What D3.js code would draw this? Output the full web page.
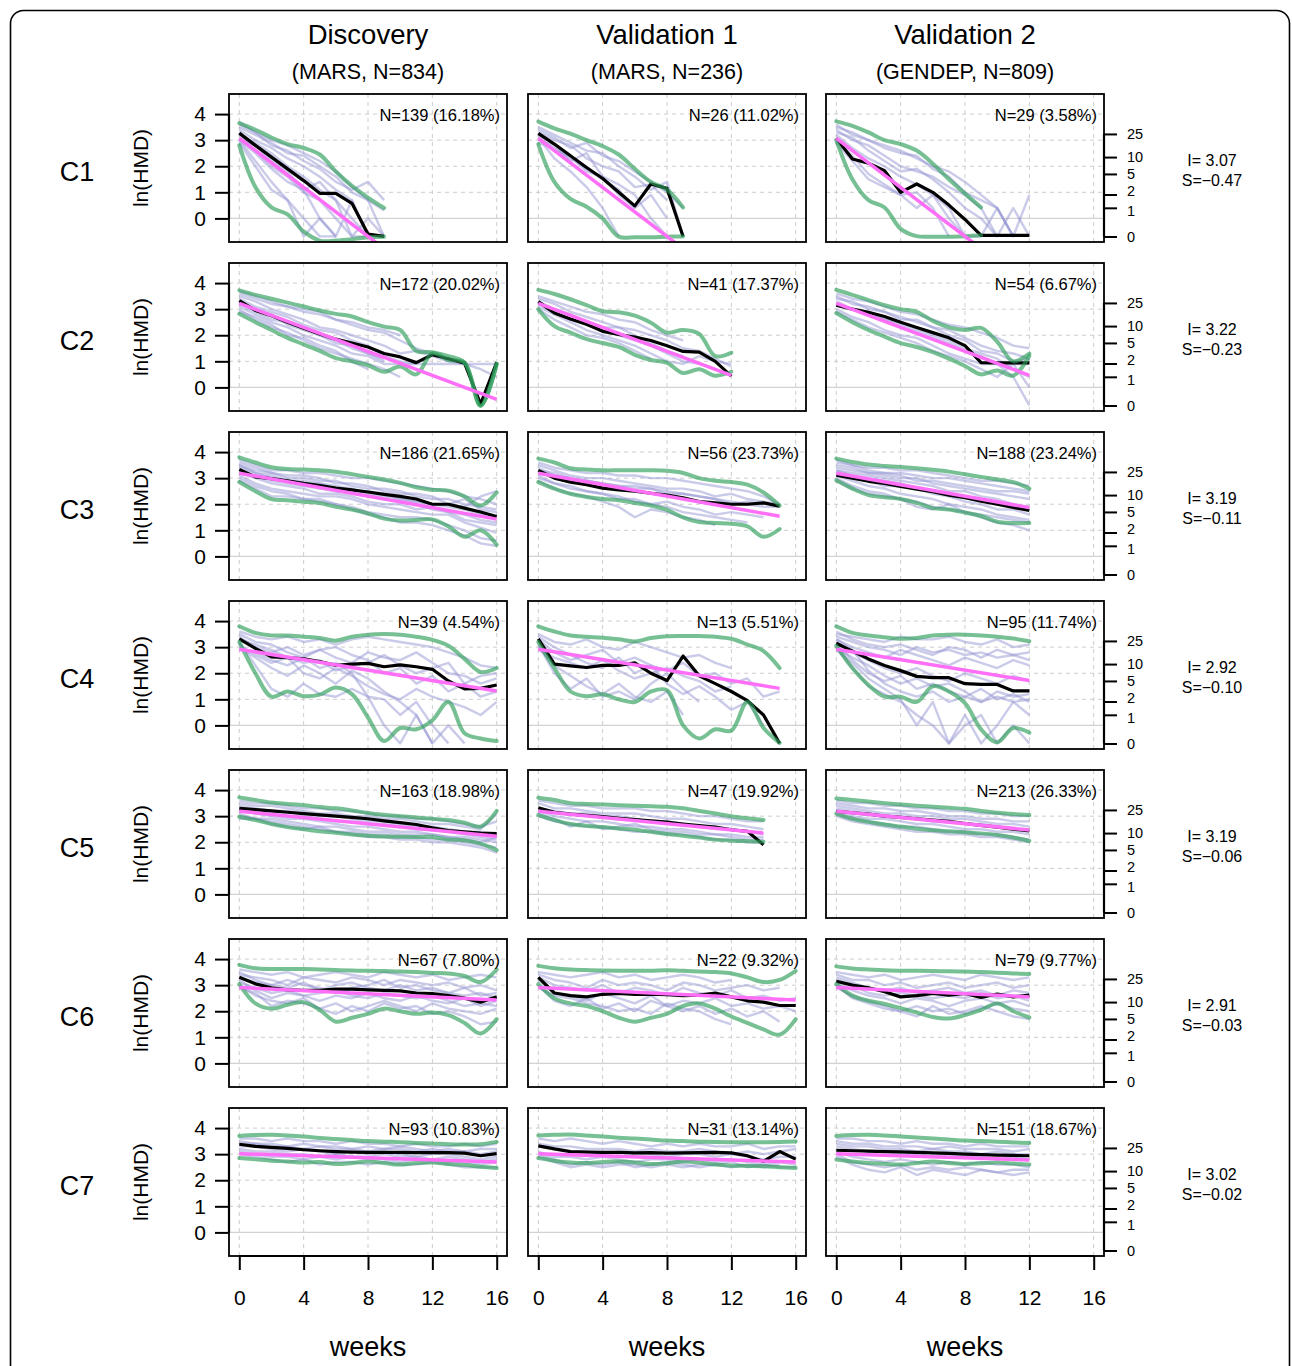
<!DOCTYPE html>
<html><head><meta charset="utf-8">
<script src="https://cdn.jsdelivr.net/npm/d3@7"></script>
<style>body{margin:0;background:#fff}svg{display:block}text{font-family:"Liberation Sans",Arial,Helvetica,sans-serif;fill:#000}</style>
</head><body><svg id="chart" width="1292" height="1366"></svg>
<script>
// ---------- labels ----------
const columnTitles = ["Discovery", "Validation 1", "Validation 2"];
const columnSubtitles = ["(MARS, N=834)", "(MARS, N=236)", "(GENDEP, N=809)"];
const clusters = ["C1", "C2", "C3", "C4", "C5", "C6", "C7"];
const intercepts = [3.07, 3.22, 3.19, 2.92, 3.19, 2.91, 3.02];
const slopes = [-0.47, -0.23, -0.11, -0.10, -0.06, -0.03, -0.02];
const panelCounts = [[139, 26, 29], [172, 41, 54], [186, 56, 188], [39, 13, 95], [163, 47, 213], [67, 22, 79], [93, 31, 151]];
const panelPercents = [[16.18, 11.02, 3.58], [20.02, 17.37, 6.67], [21.65, 23.73, 23.24], [4.54, 5.51, 11.74], [18.98, 19.92, 26.33], [7.80, 9.32, 9.77], [10.83, 13.14, 18.67]];
const yTicks = [0, 1, 2, 3, 4];
const xTicks = [0, 4, 8, 12, 16];
const hmdTicks = [0, 1, 2, 5, 10, 25];

// ---------- C1 ----------
const medC1 = [
  [3.27, 2.8, 2.35, 1.9, 1.45, 0.96, 0.96, 0.58, -0.6, -0.69],
  [3.26, 2.85, 2.4, 1.95, 1.53, 1.0, 0.48, 1.32, 1.15, -0.69],
  [3.07, 2.28, 2.12, 1.83, 1.0, 1.32, 1.0, 0.51, -0.04, -0.65, -0.65, -0.65, -0.65]];
const hiC1 = [
  [3.65, 3.4, 3.1, 2.85, 2.7, 2.45, 1.8, 1.25, 0.8, 0.4],
  [3.71, 3.45, 3.25, 3.0, 2.77, 2.45, 1.9, 1.4, 1.1, 0.42],
  [3.72, 3.55, 3.3, 3.0, 2.85, 2.6, 2.1, 1.5, 0.95, 0.42]];
const loC1 = [
  [2.8, 1.2, 0.42, 0.15, -0.5, -0.85, -0.85, -0.8, -0.72, -0.7],
  [2.85, 1.4, 0.75, 0.45, 0.0, -0.7, -0.72, -0.72, -0.7, -0.69],
  [3.0, 1.5, 0.7, 0.42, -0.4, -0.68, -0.7, -0.7, -0.68, -0.65]];
const indC1 = [
  [[3.6,3.3,3.0,2.8,2.5,2.2,1.8,1.2,0.7,0.3],[3.3,2.6,2.0,1.6,1.0,0.7,0.0,-0.69,-0.69],[3.0,2.2,1.4,0.7,0.0,-0.69,-0.69],
   [3.4,3.0,2.7,2.3,2.0,1.6,1.1,0.7,-0.69,-0.69],[3.1,2.8,2.2,1.8,1.1,1.4,0.7,0.0,-0.69],[3.5,3.2,2.9,2.5,2.4,2.0,1.6,1.0,0.7,-0.69],
   [2.9,2.0,1.1,0.7,-0.69,0.0,-0.69],[3.2,2.9,2.5,2.0,1.6,1.1,0.7,-0.69,0.0,-0.69],[3.7,3.3,2.8,2.6,2.2,1.9,1.4,1.1,1.4,0.7],
   [3.0,2.5,1.9,1.4,1.1,0.0,-0.69,0.7,-0.69]],
  [[3.4,3.1,2.7,2.9,2.4,2.2,1.8,1.4,1.0,0.4],[3.2,2.6,2.4,1.8,1.6,0.9,0.4],[3.0,2.8,2.2,2.5,1.6,1.3,0.9,0.0,-0.69],
   [3.3,3.0,2.8,2.3,2.0,1.8,1.2,1.3,0.7],[3.1,2.3,1.8,1.2,0.4,-0.69],[3.5,3.2,2.9,2.6,2.5,2.0,1.6,1.1,1.4,-0.69],
   [2.9,2.7,2.3,1.9,1.5,1.1,0.4,0.9,0.0]],
  [[3.5,3.3,3.0,2.8,2.6,2.3,2.0,1.8,1.4,0.9,0.4,-0.69],[3.2,2.7,2.3,2.0,1.6,1.3,0.9,0.4,-0.69,-0.69,0.4,-0.69,0.9],
   [3.3,3.1,2.6,2.2,1.8,1.9,1.5,1.0,0.4,0.0,-0.69],[3.0,2.4,1.7,1.3,0.9,1.0,0.4,-0.69],[3.6,3.2,3.0,2.7,2.5,2.4,1.9,1.6,1.0,0.7,0.4,-0.69],
   [2.9,2.2,1.5,1.2,0.9,0.4,0.9,0.0,-0.69],[3.4,3.0,2.8,2.4,2.0,1.8,1.6,1.2,0.9,0.4,-0.69,0.4,-0.69]]];

// ---------- C2 ----------
const medC2 = [
  [3.33, 2.95, 2.75, 2.5, 2.27, 2.05, 1.85, 1.7, 1.55, 1.3, 1.17, 0.95, 1.25, 1.1, 0.93, -0.64, 0.96],
  [3.29, 2.85, 2.62, 2.42, 2.15, 2.03, 1.93, 1.8, 1.6, 1.38, 1.35, 1.0, 0.43],
  [3.15, 3.0, 2.88, 2.72, 2.5, 2.3, 2.1, 1.9, 1.6, 0.95, 0.94, 0.94, 0.94]];
const hiC2 = [
  [3.72, 3.55, 3.4, 3.25, 3.1, 2.95, 2.82, 2.72, 2.5, 2.33, 2.2, 1.4, 1.35, 1.2, 0.95, -0.7, 0.9],
  [3.74, 3.58, 3.38, 3.15, 2.92, 2.88, 2.75, 2.48, 2.1, 2.2, 2.05, 1.2, 1.33],
  [3.74, 3.55, 3.35, 3.15, 3.0, 2.9, 2.55, 2.3, 2.2, 2.28, 1.75, 1.0, 1.3]];
const loC2 = [
  [2.82, 2.5, 2.2, 1.9, 1.65, 1.4, 1.12, 1.0, 0.85, 0.6, 0.8, 0.5, 1.3, 1.05, 0.95, -0.7, 0.9],
  [3.0, 2.35, 2.1, 1.85, 1.7, 1.55, 1.25, 1.05, 0.94, 0.55, 0.7, 0.45, 0.6],
  [2.85, 2.5, 2.2, 1.95, 1.7, 1.55, 1.35, 1.1, 0.82, 0.5, 0.65, 0.45, 1.2]];
const indC2 = [
  [[3.6,3.4,3.2,3.1,2.9,2.8,2.6,2.5,2.3,2.2,2.0],[3.3,3.0,2.8,2.4,2.2,2.0,1.8,1.5,1.3,1.0],[3.0,2.6,2.3,2.1,1.8,1.5,1.3,1.1,0.9,0.7,0.4],
   [3.5,3.3,3.0,2.8,2.6,2.3,2.2,2.0,1.8,1.6,1.3,1.4,1.2,1.0,0.9,0.7,0.4],[3.2,2.9,2.6,2.5,2.3,2.0,1.7,1.6,1.3,1.1],
   [3.4,3.1,2.9,2.7,2.4,2.2,2.1,1.8,1.6,1.2,1.0,0.9],[2.9,2.7,2.4,2.0,1.9,1.6,1.4,1.0,0.7],
   [3.7,3.5,3.3,3.1,3.0,2.9,2.6,2.4,2.2,2.1,1.8,1.5,1.3],[3.1,2.8,2.5,2.3,2.0,1.8,1.6,1.3,1.2,0.9,0.9,0.9,0.9,0.9,0.9,0.9,0.9]],
  [[3.5,3.3,3.1,2.9,2.8,2.6,2.5,2.2,2.0,1.8],[3.2,2.9,2.6,2.4,2.2,2.0,1.8,1.6,1.3,1.0,0.9],[3.0,2.6,2.3,2.0,1.9,1.7,1.4,1.1],
   [3.4,3.2,2.9,2.7,2.5,2.3,2.2,2.0,1.8,1.5,1.4,1.1,0.8],[3.3,3.0,2.8,2.5,2.3,2.3,2.0,1.7,1.4,1.2],[3.1,2.8,2.5,2.2,2.0,1.8,1.6,1.3,1.0,0.9,1.2,1.0,0.9]],
  [[3.6,3.4,3.3,3.1,2.9,2.8,2.6,2.4,2.3,2.1,1.9,1.6,1.5],[3.2,3.0,2.8,2.6,2.4,2.1,1.9,1.7,1.4,1.2,0.9,0.4,-0.69],
   [3.0,2.7,2.5,2.2,2.0,1.9,1.6,1.3,1.1,0.9,0.9,0.9,0.9],[3.4,3.3,3.0,2.9,2.7,2.5,2.3,2.2,1.9,1.6,1.4,1.3,1.1],
   [3.3,3.0,2.9,2.6,2.5,2.2,2.0,1.8,1.5,1.3,1.1,0.7,0.4],[2.9,2.6,2.3,2.1,1.9,1.7,1.4,1.2,1.0,0.7,0.4,0.9,0.0],
   [3.5,3.2,3.1,2.9,2.6,2.6,2.3,2.0,1.8,1.4,1.3,1.0,1.1]]];

// ---------- C3 ----------
const medC3 = [
  [3.33, 3.05, 2.98, 2.9, 2.8, 2.72, 2.62, 2.55, 2.47, 2.38, 2.3, 2.2, 2.0, 2.0, 1.85, 1.7, 1.53],
  [3.3, 3.0, 2.85, 2.75, 2.62, 2.55, 2.5, 2.42, 2.35, 2.25, 2.1, 2.05, 2.0, 2.0, 2.05, 1.93],
  [3.11, 3.0, 2.88, 2.8, 2.68, 2.58, 2.48, 2.35, 2.25, 2.12, 2.0, 1.88, 1.76]];
const hiC3 = [
  [3.8, 3.6, 3.42, 3.35, 3.33, 3.3, 3.25, 3.15, 3.05, 2.95, 2.82, 2.65, 2.55, 2.52, 2.3, 1.95, 2.45],
  [3.75, 3.6, 3.38, 3.33, 3.3, 3.3, 3.3, 3.3, 3.28, 3.2, 3.0, 2.9, 2.85, 2.75, 2.45, 1.95],
  [3.75, 3.62, 3.52, 3.47, 3.43, 3.38, 3.32, 3.25, 3.15, 3.05, 2.95, 2.85, 2.6]];
const loC3 = [
  [2.85, 2.5, 2.2, 2.15, 2.1, 2.05, 1.9, 1.8, 1.65, 1.45, 1.38, 1.4, 1.42, 1.15, 0.75, 1.0, 0.45],
  [2.85, 2.6, 2.4, 2.28, 2.2, 2.15, 2.05, 1.95, 1.78, 1.5, 1.32, 1.28, 1.25, 1.15, 0.75, 1.05],
  [2.92, 2.6, 2.35, 2.27, 2.2, 2.05, 1.85, 1.8, 1.68, 1.55, 1.33, 1.28, 1.28]];
const indC3 = [
  [[3.7,3.5,3.3,3.3,3.2,3.2,3.1,3.0,3.0,2.9,2.8,2.7,2.6,2.5,2.3,2.2,2.0],[3.1,2.8,2.6,2.5,2.4,2.3,2.3,2.2,2.0,1.9,1.8,1.7,1.6,1.6,1.3,1.1,0.9],
   [3.4,3.2,3.1,2.9,2.9,2.8,2.6,2.5,2.5,2.4,2.2,2.1,2.0,1.9,1.8,1.6,1.5],[2.9,2.6,2.3,2.3,2.2,2.1,2.0,1.9,1.7,1.6,1.5,1.5,1.4,1.2,1.0,0.7,0.6],
   [3.5,3.3,3.2,3.0,3.0,2.9,2.9,2.7,2.6,2.6,2.5,2.3,2.2,2.2,2.0,1.9,1.8],[3.2,3.0,2.8,2.7,2.6,2.4,2.4,2.3,2.1,2.0,2.0,1.8,1.9,1.7,1.4,1.3,1.2],
   [3.6,3.4,3.2,3.1,3.1,3.0,2.8,2.8,2.7,2.5,2.4,2.4,2.3,2.0,1.9,2.3,2.5],[3.0,2.7,2.5,2.4,2.2,2.2,2.0,1.8,1.6,1.5,1.3,1.3,1.2,1.0,0.8,0.5,0.4],
   [3.3,3.1,2.9,2.8,2.7,2.6,2.5,2.4,2.3,2.2,2.1,2.0,1.8,1.7,1.6,1.4,1.3],[3.5,3.2,3.0,2.9,2.8,2.8,2.7,2.6,2.4,2.3,2.2,2.1,2.0,2.0,2.2,1.8,1.7]],
  [[3.6,3.4,3.3,3.2,3.2,3.1,3.1,3.0,3.0,2.9,2.8,2.7,2.6,2.5,2.3,2.0],[3.1,2.8,2.6,2.5,2.4,2.3,2.1,2.0,1.9,1.7,1.6,1.5,1.4,1.3],
   [3.4,3.1,3.0,2.9,2.8,2.7,2.6,2.6,2.5,2.4,2.3,2.2,2.1,2.0,1.9,1.9],[2.9,2.6,2.4,2.3,2.1,1.9,1.5,1.8,1.7,1.5,1.4,1.2],
   [3.3,3.2,3.0,2.9,2.8,2.7,2.7,2.6,2.4,2.4,2.3,2.2,2.0,2.1,2.0],[3.0,2.8,2.7,2.5,2.4,2.2,2.2,2.0,2.1,1.9,1.8,1.6,1.7,1.6,1.5],
   [3.5,3.3,3.1,3.0,3.0,2.9,2.8,2.7,2.6,2.6,2.5,2.3,2.4,2.2,2.1,2.0]],
  [[3.6,3.5,3.4,3.4,3.3,3.3,3.2,3.1,3.0,2.9,2.9,2.8,2.7],[3.0,2.7,2.5,2.4,2.2,2.1,1.9,1.8,1.7,1.5,1.3,1.2,1.0],
   [3.3,3.1,3.0,2.9,2.8,2.6,2.5,2.4,2.3,2.2,2.1,1.9,1.8],[3.4,3.3,3.2,3.1,3.0,3.0,2.8,2.7,2.6,2.5,2.4,2.3,2.2],
   [2.9,2.6,2.4,2.3,2.2,1.9,1.8,2.0,1.7,1.6,1.5,1.4,1.3],[3.2,3.0,2.9,2.7,2.7,2.6,2.4,2.3,2.1,2.0,1.8,1.8,1.6],
   [3.5,3.4,3.2,3.2,3.1,2.9,2.9,2.8,2.7,2.6,2.5,2.5,2.4],[3.1,2.9,2.7,2.6,2.4,2.3,2.2,2.0,1.9,1.8,1.6,1.5,1.4],
   [3.3,3.2,3.1,3.0,2.9,2.8,2.7,2.5,2.5,2.3,2.2,2.0,1.9],[3.7,3.5,3.3,3.2,3.2,3.1,3.0,3.0,2.9,2.8,2.7,2.6,2.5]]];

// ---------- C4 ----------
const medC4 = [
  [3.32, 2.95, 2.63, 2.6, 2.55, 2.45, 2.3, 2.35, 2.38, 2.25, 2.32, 2.25, 2.15, 1.7, 1.4, 1.42, 1.55],
  [3.32, 2.35, 2.28, 2.22, 2.3, 2.3, 2.4, 2.0, 1.72, 2.66, 1.9, 1.6, 1.3, 0.95, 0.4, -0.69],
  [3.15, 2.85, 2.55, 2.3, 2.1, 1.88, 1.83, 1.83, 1.6, 1.57, 1.57, 1.32, 1.32]];
const hiC4 = [
  [3.8, 3.55, 3.45, 3.45, 3.4, 3.35, 3.25, 3.4, 3.48, 3.5, 3.48, 3.4, 3.28, 3.05, 2.55, 2.05, 2.2],
  [3.8, 3.6, 3.45, 3.4, 3.36, 3.3, 3.22, 3.35, 3.42, 3.43, 3.43, 3.4, 3.32, 3.1, 2.85, 2.2],
  [3.8, 3.55, 3.45, 3.38, 3.32, 3.35, 3.45, 3.48, 3.48, 3.45, 3.4, 3.33, 3.23]];
const loC4 = [
  [3.2, 2.0, 1.1, 1.3, 1.12, 1.18, 1.45, 1.2, 0.3, -0.6, -0.1, -0.15, 0.2, 0.9, -0.3, -0.5, -0.6],
  [3.2, 2.2, 1.3, 1.12, 1.19, 1.0, 0.9, 1.3, 1.35, 0.0, -0.5, -0.15, -0.2, 0.9, -0.1, -0.67],
  [3.05, 2.2, 1.55, 1.1, 1.1, 0.9, 1.5, 1.3, 0.85, -0.15, -0.65, -0.1, -0.28]];
const indC4 = [
  [[3.6,3.4,3.3,3.4,3.2,3.3,3.1,3.3,3.4,3.3,3.2,3.1,3.0,2.8,2.6,2.3,2.2],[3.0,2.6,2.2,1.9,2.3,2.0,1.6,2.1,1.8,1.3,0.9,0.4,-0.69,0.0,-0.69],
   [3.4,3.0,2.8,3.0,2.7,2.9,2.6,2.4,2.8,2.6,2.5,2.8,2.4,2.0,1.9,1.6,1.8],[3.2,2.3,1.4,1.1,1.6,1.2,1.1,1.4,1.1,1.0,0.4,0.9,0.0,-0.69],
   [3.5,3.2,3.1,2.8,2.6,2.9,3.0,2.7,2.5,2.0,2.2,1.6,1.9,1.3,1.6,1.1,1.3],[2.9,2.8,2.5,2.3,2.6,2.2,2.4,2.0,1.1,0.0,-0.69,0.4,-0.69],
   [3.3,3.1,2.9,2.6,2.4,2.5,2.1,2.3,2.4,2.7,2.3,2.0,2.2,2.4,1.6,1.9,2.0],[3.1,2.7,2.4,2.6,2.0,1.8,2.2,1.9,1.5,1.2,1.0,1.4,1.1,0.9,0.7,0.4,0.9]],
  [[3.5,3.2,3.1,3.3,3.0,2.9,3.2,3.0,2.8,2.6,2.7,2.4,2.2],[3.0,2.3,1.9,1.5,1.2,1.6,1.1,0.9,1.3,0.4],
   [3.3,2.8,2.5,2.7,2.9,2.4,2.6,2.3,2.1,2.4,1.9,2.0,1.6,1.8,1.1,1.3],[3.1,2.0,1.4,1.8,1.1,1.3,1.0,1.6,2.0,1.4,0.9],
   [3.4,3.0,2.7,2.4,2.2,2.6,2.0,2.3,1.6,1.2,1.5,1.1,0.6,0.9,0.0],[2.9,2.6,2.4,2.2,2.5,2.1,1.8,2.0,2.2,1.9,1.7,1.3,1.5]],
  [[3.5,3.4,3.3,3.2,3.4,3.3,3.3,3.4,3.2,3.1,3.3,3.0,3.1],[3.0,2.2,1.5,1.2,0.9,0.4,0.0,-0.69,0.4,-0.69,0.0,0.9,0.4],
   [3.3,3.0,2.8,2.6,2.9,2.7,2.5,2.3,2.6,2.4,2.2,2.5,2.3],[3.1,2.5,2.0,1.7,1.9,1.4,1.6,1.3,1.1,1.4,1.0,1.2,0.9],
   [3.4,3.2,3.0,2.9,2.7,3.0,2.8,2.9,2.7,2.8,2.6,2.7,2.5],[2.9,2.4,1.8,1.4,1.0,0.0,0.9,-0.69,0.0,0.4,-0.69,0.0,-0.69],
   [3.2,2.8,2.5,2.2,2.0,2.2,1.9,1.7,2.0,1.8,1.6,1.9,1.7],[3.6,3.3,3.1,3.0,3.1,2.9,2.7,3.0,2.9,2.6,2.9,2.7,2.8],
   [3.0,2.6,2.3,1.9,1.6,1.8,1.5,1.6,1.3,0.9,1.3,1.1,1.2],[3.3,2.9,2.1,1.6,1.3,1.1,1.3,0.9,1.1,0.9,1.1,0.9,1.0]]];

// ---------- C5 ----------
const medC5 = [
  [3.3, 3.25, 3.2, 3.15, 3.1, 3.05, 3.0, 2.95, 2.9, 2.82, 2.75, 2.68, 2.55, 2.45, 2.4, 2.35, 2.33],
  [3.32, 3.15, 3.08, 3.03, 2.98, 2.92, 2.87, 2.82, 2.77, 2.7, 2.64, 2.58, 2.48, 2.42, 1.9],
  [3.18, 3.13, 3.08, 3.0, 2.95, 2.9, 2.85, 2.8, 2.72, 2.65, 2.58, 2.5, 2.43]];
const hiC5 = [
  [3.72, 3.62, 3.52, 3.47, 3.42, 3.35, 3.3, 3.22, 3.12, 3.05, 3.0, 2.95, 2.9, 2.85, 2.75, 2.6, 3.2],
  [3.71, 3.62, 3.5, 3.47, 3.45, 3.42, 3.4, 3.38, 3.36, 3.3, 3.2, 3.1, 3.0, 2.92, 2.85],
  [3.68, 3.62, 3.56, 3.5, 3.45, 3.4, 3.36, 3.32, 3.28, 3.2, 3.13, 3.08, 3.04]];
const loC5 = [
  [2.98, 2.85, 2.7, 2.58, 2.5, 2.42, 2.36, 2.3, 2.25, 2.22, 2.21, 2.2, 2.2, 2.1, 2.08, 1.95, 1.7],
  [3.04, 2.85, 2.7, 2.63, 2.58, 2.53, 2.48, 2.4, 2.32, 2.25, 2.18, 2.1, 2.06, 2.04, 2.02],
  [3.1, 2.9, 2.78, 2.68, 2.6, 2.52, 2.46, 2.42, 2.38, 2.34, 2.28, 2.18, 2.05]];
const indC5 = [
  [[3.6,3.5,3.5,3.4,3.3,3.3,3.2,3.2,3.1,3.0,3.0,2.9,2.9,2.8,2.7,2.6,2.8],[3.0,2.9,2.8,2.7,2.6,2.5,2.4,2.4,2.3,2.3,2.2,2.2,2.1,2.1,2.0,1.9,1.8],
   [3.4,3.3,3.2,3.2,3.1,3.0,3.0,2.9,2.8,2.8,2.7,2.6,2.6,2.5,2.4,2.4,2.3],[3.2,3.1,3.0,2.9,2.9,2.8,2.7,2.6,2.6,2.5,2.4,2.4,2.3,2.2,2.2,2.1,2.0],
   [3.5,3.4,3.4,3.3,3.2,3.1,3.1,3.0,3.0,2.9,2.9,2.8,2.7,2.7,2.6,2.5,3.1],[3.1,2.9,2.9,2.8,2.7,2.6,2.6,2.5,2.4,2.4,2.3,2.3,2.3,2.2,2.1,2.0,2.2],
   [3.3,3.2,3.1,3.0,3.0,2.9,2.8,2.8,2.7,2.7,2.6,2.5,2.5,2.4,2.3,2.2,2.1],[2.9,2.9,2.7,2.6,2.5,2.6,2.4,2.3,2.2,2.2,2.1,2.1,2.0,2.0,1.9,1.8,1.6]],
  [[3.6,3.5,3.4,3.4,3.3,3.3,3.3,3.2,3.2,3.1,3.0,3.0,2.9,2.8,2.8],[3.0,2.8,2.7,2.6,2.6,2.5,2.4,2.4,2.3,2.3,2.2,2.1,2.1,2.0,2.0],
   [3.3,3.2,3.1,3.1,3.0,3.0,2.9,2.8,2.8,2.7,2.6,2.6,2.5,2.4,2.3],[3.2,3.0,2.9,2.8,2.8,2.7,2.6,2.6,2.5,2.5,2.4,2.3,2.3,2.2,2.2],
   [3.5,3.3,3.3,3.2,3.1,3.1,3.1,3.0,2.9,2.9,2.8,2.7,2.7,2.6,2.5],[3.1,2.9,2.6,2.8,2.5,2.6,2.7,2.5,2.4,2.4,2.3,2.3,2.2,2.1,2.1]],
  [[3.6,3.5,3.5,3.4,3.4,3.3,3.3,3.2,3.2,3.1,3.1,3.0,3.0],[3.0,2.8,2.7,2.6,2.5,2.4,2.4,2.3,2.3,2.2,2.2,2.1,2.0],
   [3.3,3.2,3.1,3.0,3.0,2.9,2.8,2.8,2.7,2.7,2.6,2.5,2.5],[3.2,3.0,2.9,2.9,2.8,2.7,2.7,2.6,2.5,2.5,2.4,2.4,2.3],
   [3.5,3.4,3.3,3.3,3.2,3.2,3.1,3.0,3.0,2.9,2.9,2.8,2.8],[3.1,2.9,2.8,2.7,2.6,2.6,2.5,2.4,2.4,2.3,2.3,2.2,2.1],
   [3.4,3.3,3.2,3.1,3.1,3.0,3.0,2.9,2.9,2.8,2.7,2.7,2.6]]];

// ---------- C6 ----------
const medC6 = [
  [3.3, 3.05, 2.9, 2.82, 2.8, 2.8, 2.85, 2.85, 2.82, 2.8, 2.78, 2.7, 2.68, 2.6, 2.5, 2.35, 2.55],
  [3.3, 2.7, 2.6, 2.55, 2.65, 2.68, 2.65, 2.66, 2.64, 2.6, 2.62, 2.7, 2.55, 2.4, 2.35, 2.22, 2.22],
  [3.15, 3.0, 2.9, 2.75, 2.55, 2.6, 2.68, 2.62, 2.68, 2.53, 2.66, 2.55, 2.62]];
const hiC6 = [
  [3.78, 3.65, 3.62, 3.62, 3.62, 3.6, 3.58, 3.56, 3.55, 3.54, 3.52, 3.5, 3.47, 3.45, 3.35, 3.12, 3.6],
  [3.74, 3.65, 3.6, 3.58, 3.56, 3.55, 3.55, 3.55, 3.57, 3.55, 3.52, 3.5, 3.45, 3.3, 3.12, 3.2, 3.55],
  [3.72, 3.64, 3.6, 3.57, 3.55, 3.55, 3.54, 3.53, 3.52, 3.5, 3.48, 3.45, 3.43]];
const loC6 = [
  [3.04, 2.3, 2.1, 2.25, 2.35, 2.05, 1.6, 1.75, 1.9, 2.1, 2.0, 1.9, 1.95, 1.85, 1.55, 1.15, 1.7],
  [3.04, 2.5, 2.3, 2.2, 2.0, 1.75, 1.6, 1.75, 1.9, 2.2, 2.3, 2.1, 1.8, 1.55, 1.3, 1.1, 1.7],
  [3.04, 2.6, 2.4, 2.28, 2.12, 1.95, 1.78, 1.72, 1.85, 2.05, 2.3, 2.0, 1.76]];
const indC6 = [
  [[3.6,3.5,3.4,3.5,3.3,3.4,3.5,3.4,3.3,3.5,3.4,3.3,3.4,3.2,3.3,3.4,3.3],[3.0,2.6,2.4,2.3,2.5,2.1,1.9,2.2,2.0,2.3,2.1,2.2,1.9,2.0,1.8,1.5,1.6],
   [3.3,3.1,3.0,2.9,3.1,2.8,3.0,3.1,2.9,2.8,3.0,2.8,2.9,2.7,2.6,2.7,2.5],[3.2,2.8,2.5,2.7,2.6,2.4,2.6,2.5,2.7,2.5,2.4,2.6,2.4,2.3,2.5,2.2,2.4],
   [3.4,3.3,3.2,3.0,3.3,3.2,3.1,3.3,3.2,3.0,3.2,3.1,3.0,3.1,2.9,3.0,2.8],[2.9,2.7,2.2,2.4,2.3,2.1,2.3,2.0,2.2,2.4,2.2,2.0,2.3,2.1,2.0,1.9,2.1],
   [3.5,3.2,3.0,3.2,3.0,2.9,2.7,2.9,3.0,3.2,2.9,3.0,2.8,2.7,2.9,2.6,2.7],[3.1,2.9,2.7,2.8,2.6,2.7,2.8,2.6,2.5,2.7,2.6,2.5,2.6,2.4,2.2,2.3,2.2]],
  [[3.5,3.4,3.3,3.4,3.5,3.3,3.4,3.2,3.3,3.4,3.3,3.1,3.2],[3.0,2.4,2.2,2.5,2.1,2.3,2.0,2.4,2.2,2.0,2.2,1.9,2.1,1.8,2.0,1.6],
   [3.3,3.0,2.9,2.8,3.0,2.7,2.9,2.8,2.6,2.9,2.7,2.6,2.8,2.5,2.6,2.4,2.5],[3.2,2.7,2.6,2.4,2.7,2.5,2.3,2.6,2.2,2.4,2.3,2.5,2.2,2.3,2.1,2.2,2.0],
   [3.4,3.2,3.1,2.9,3.2,3.0,3.1,3.0,2.8,3.1,3.0,2.8,2.9,3.0,2.8,2.9],[2.9,2.6,2.5,2.3,2.2,2.0,2.1,1.9,2.3,2.1,2.0,1.7,1.5]],
  [[3.5,3.4,3.3,3.4,3.2,3.3,3.4,3.3,3.2,3.4,3.3,3.2,3.3],[3.0,2.5,2.3,2.1,2.0,1.8,2.2,1.9,2.0,2.2,2.0,1.8,1.7],
   [3.3,3.1,2.9,2.8,2.9,2.7,2.8,2.9,2.7,2.8,2.6,2.8,2.7],[3.1,2.8,2.6,2.5,2.3,2.5,2.4,2.2,2.4,2.5,2.3,2.4,2.2],
   [3.4,3.2,3.2,3.0,3.1,2.9,3.0,3.1,2.9,3.0,3.1,2.9,3.0],[2.9,2.6,2.4,2.2,2.0,2.2,2.0,2.1,1.9,2.1,2.3,2.1,2.0],
   [3.2,3.0,2.7,2.6,2.7,2.6,2.5,2.6,2.5,2.7,2.5,2.6,2.4]]];

// ---------- C7 ----------
const medC7 = [
  [3.38, 3.3, 3.26, 3.22, 3.17, 3.13, 3.1, 3.08, 3.07, 3.07, 3.07, 3.06, 3.06, 3.06, 3.04, 2.94, 3.02],
  [3.32, 3.2, 3.1, 3.08, 3.07, 3.07, 3.05, 3.06, 3.04, 3.05, 3.06, 3.07, 3.05, 2.94, 2.72, 3.1, 2.81],
  [3.15, 3.13, 3.12, 3.1, 3.09, 3.07, 3.05, 3.03, 3.0, 2.98, 2.96, 2.95, 2.94]];
const hiC7 = [
  [3.7, 3.73, 3.74, 3.72, 3.68, 3.62, 3.58, 3.54, 3.5, 3.48, 3.46, 3.43, 3.41, 3.38, 3.37, 3.38, 3.47],
  [3.72, 3.74, 3.75, 3.72, 3.68, 3.63, 3.6, 3.56, 3.52, 3.5, 3.48, 3.47, 3.46, 3.46, 3.46, 3.47, 3.49],
  [3.7, 3.73, 3.74, 3.72, 3.68, 3.64, 3.6, 3.56, 3.52, 3.5, 3.48, 3.45, 3.43]];
const loC7 = [
  [2.85, 2.8, 2.75, 2.72, 2.68, 2.7, 2.62, 2.66, 2.72, 2.66, 2.6, 2.66, 2.68, 2.62, 2.58, 2.52, 2.47],
  [2.85, 2.75, 2.68, 2.66, 2.7, 2.72, 2.68, 2.62, 2.65, 2.72, 2.68, 2.6, 2.56, 2.55, 2.54, 2.5, 2.47],
  [2.79, 2.72, 2.66, 2.63, 2.6, 2.66, 2.72, 2.66, 2.62, 2.65, 2.68, 2.64, 2.6]];
const indC7 = [
  [[3.6,3.6,3.5,3.6,3.5,3.5,3.4,3.5,3.4,3.4,3.3,3.4,3.3,3.3,3.4,3.3,3.4],[3.0,2.9,2.8,2.7,2.8,2.6,2.7,2.7,2.6,2.7,2.6,2.6,2.7,2.6,2.5,2.5,2.5],
   [3.3,3.3,3.2,3.1,3.2,3.1,3.0,3.1,3.0,3.1,3.0,2.9,3.0,3.0,2.9,2.8,2.9],[3.4,3.4,3.3,3.3,3.2,3.3,3.2,3.2,3.1,3.2,3.2,3.1,3.2,3.1,3.1,3.0,3.1],
   [3.1,3.0,2.9,2.9,2.8,2.9,2.8,2.9,2.8,2.8,2.7,2.8,2.8,2.7,2.7,2.6,2.7],[3.5,3.4,3.4,3.3,3.4,3.3,3.3,3.2,3.3,3.2,3.3,3.2,3.1,3.2,3.1,3.2,3.2],
   [3.2,3.1,3.1,3.0,3.0,2.9,3.0,2.9,2.9,3.0,2.9,2.9,2.8,2.9,2.8,2.7,2.8]],
  [[3.6,3.5,3.6,3.5,3.4,3.5,3.4,3.3,3.4,3.3,3.4,3.3,3.3,3.4,3.2,3.3,3.3],[3.0,2.8,2.6,2.7,2.6,2.7,2.5,2.6,2.7,2.6,2.5,2.6,2.7,2.5,2.6,2.5,2.5],
   [3.3,3.2,3.1,3.1,3.0,3.1,3.0,3.0,2.9,3.0,3.0,2.9,3.0,2.9,2.8,2.9,2.9],[3.4,3.3,3.3,3.2,3.2,3.2,3.1,3.2,3.1,3.1,3.2,3.1,3.0,3.1,3.0,3.1,3.2],
   [3.1,2.9,2.9,2.8,2.9,2.8,2.7,2.8,2.8,2.7,2.8,2.7,2.8,2.7,2.6,2.7,2.6],[2.9,2.7,2.5,2.6,2.5,2.6,2.6,2.5,2.6,2.5,2.6,2.6,2.5,2.6,2.5,2.6]],
  [[3.6,3.6,3.5,3.5,3.4,3.5,3.4,3.4,3.3,3.4,3.3,3.3,3.3],[2.9,2.6,2.4,2.3,2.5,2.2,2.4,2.3,2.2,2.4,2.3,2.2,2.3],
   [3.3,3.2,3.1,3.1,3.0,3.0,2.9,3.0,2.9,2.9,2.8,2.9,2.8],[3.4,3.3,3.3,3.2,3.2,3.1,3.2,3.1,3.1,3.0,3.1,3.0,3.0],
   [3.1,2.9,2.8,2.7,2.8,2.7,2.6,2.7,2.6,2.7,2.6,2.6,2.5],[3.5,3.4,3.4,3.3,3.3,3.3,3.2,3.3,3.2,3.2,3.2,3.1,3.2],
   [3.0,2.7,2.6,2.5,2.6,2.4,2.5,2.4,2.5,2.4,2.3,2.4,2.4]]];

const medians = [medC1, medC2, medC3, medC4, medC5, medC6, medC7];
const uppers = [hiC1, hiC2, hiC3, hiC4, hiC5, hiC6, hiC7];
const lowers = [loC1, loC2, loC3, loC4, loC5, loC6, loC7];
const individuals = [indC1, indC2, indC3, indC4, indC5, indC6, indC7];

// ---------- layout ----------
const FONT = '"Liberation Sans", Arial, Helvetica, sans-serif';
const panelW = 278, panelH = 148;
const colX = [229, 528, 826];
const rowY = d3.range(7).map(i => 94 + 169 * i);

const x = d3.scaleLinear().domain([-0.64, 16.64]).range([0, panelW]);
const y = d3.scaleLinear().domain([-0.905, 4.77]).range([panelH, 0]);

const svg = d3.select("#chart");
svg.append("rect").attr("x", 10.5).attr("y", 10.5).attr("width", 1279).attr("height", 1400)
  .attr("rx", 13).attr("fill", "none").attr("stroke", "#000").attr("stroke-width", 1.6);

const defs = svg.append("defs");
defs.append("clipPath").attr("id", "pclip").append("rect").attr("x", 0).attr("y", 0).attr("width", panelW).attr("height", panelH);

const lineRaw = d3.line().x((d, i) => x(i)).y(d => y(d));
const lineSmooth = d3.line().x((d, i) => x(i)).y(d => y(d)).curve(d3.curveCatmullRom.alpha(0.5));
const f2 = d3.format(".2f");

// column titles
columnTitles.forEach((t, c) => {
  const cx = colX[c] + panelW / 2;
  svg.append("text").attr("x", cx).attr("y", 34).attr("text-anchor", "middle").attr("dominant-baseline", "central")
    .attr("font-size", 27.5).text(t);
  svg.append("text").attr("x", cx).attr("y", 72).attr("text-anchor", "middle").attr("dominant-baseline", "central")
    .attr("font-size", 21.5).text(columnSubtitles[c]);
});

clusters.forEach((cl, r) => {
  const top = rowY[r];
  svg.append("text").attr("x", 77).attr("y", top + 78).attr("text-anchor", "middle").attr("dominant-baseline", "central")
    .attr("font-size", 27).text(cl);
  svg.append("text").attr("transform", `translate(140,${top + 74}) rotate(-90)`).attr("text-anchor", "middle")
    .attr("dominant-baseline", "central").attr("font-size", 21).text("ln(HMD)");
  svg.append("text").attr("x", 1212).attr("y", top + 66).attr("text-anchor", "middle").attr("dominant-baseline", "central")
    .attr("font-size", 16).text("I= " + f2(intercepts[r]));
  svg.append("text").attr("x", 1212).attr("y", top + 86).attr("text-anchor", "middle").attr("dominant-baseline", "central")
    .attr("font-size", 16).text("S=" + f2(slopes[r]));

  for (let c = 0; c < 3; c++) {
    const g = svg.append("g").attr("transform", `translate(${colX[c]},${top})`);
    // grid
    g.selectAll(".vg").data(xTicks).join("line").attr("x1", d => x(d)).attr("x2", d => x(d))
      .attr("y1", 0).attr("y2", panelH).attr("stroke", "#cdcdcd").attr("stroke-dasharray", "4,4").attr("stroke-width", 1);
    g.selectAll(".hg").data(yTicks.slice(1)).join("line").attr("x1", 0).attr("x2", panelW)
      .attr("y1", d => y(d)).attr("y2", d => y(d)).attr("stroke", "#cdcdcd").attr("stroke-dasharray", "4,4").attr("stroke-width", 1);
    g.append("line").attr("x1", 0).attr("x2", panelW).attr("y1", y(0)).attr("y2", y(0)).attr("stroke", "#d2d2d2").attr("stroke-width", 1.2);

    const pg = g.append("g").attr("clip-path", "url(#pclip)");
    pg.selectAll(".ind").data(individuals[r][c]).join("path").attr("d", d => lineRaw(d))
      .attr("fill", "none").attr("stroke", "rgb(150,150,212)").attr("stroke-opacity", 0.5).attr("stroke-width", 2.4)
      .attr("stroke-linejoin", "round");
    const med = medians[r][c];
    pg.append("path").attr("d", lineRaw(med)).attr("fill", "none").attr("stroke", "#000").attr("stroke-width", 3.2)
      .attr("stroke-linejoin", "round");
    [uppers[r][c], lowers[r][c]].forEach(q => {
      pg.append("path").attr("d", lineSmooth(q)).attr("fill", "none").attr("stroke", "rgb(46,158,90)")
        .attr("stroke-opacity", 0.65).attr("stroke-width", 4).attr("stroke-linecap", "round");
    });
    const last = med.length - 1;
    const fit = d3.line().x(d => x(d)).y(d => y(intercepts[r] + slopes[r] * d));
    pg.append("path").attr("d", fit([0, last])).attr("fill", "none").attr("stroke", "#ff6ef7").attr("stroke-width", 3.5);

    g.append("rect").attr("x", 0).attr("y", 0).attr("width", panelW).attr("height", panelH)
      .attr("fill", "none").attr("stroke", "#000").attr("stroke-width", 1.8);
    g.append("text").attr("x", panelW - 7).attr("y", 21).attr("text-anchor", "end").attr("dominant-baseline", "central")
      .attr("font-size", 16.5).text(`N=${panelCounts[r][c]} (${f2(panelPercents[r][c])}%)`);

    if (c === 0) {
      const ax = g.append("g").call(d3.axisLeft(y).tickValues(yTicks).tickFormat(d3.format("d")).tickSize(14).tickPadding(9));
      ax.select(".domain").remove();
      ax.attr("font-family", FONT).attr("font-size", 21);
      ax.selectAll(".tick line").attr("stroke-width", 2);
      ax.append("line").attr("x1", 0).attr("x2", 0).attr("y1", y(0)).attr("y2", y(4)).attr("stroke", "#000").attr("stroke-width", 2.2);
    }
    if (c === 2) {
      const ar = g.append("g").attr("transform", `translate(${panelW},0)`)
        .call(d3.axisRight(y).tickValues(hmdTicks.map(v => Math.log(v + 0.5))).tickFormat((d, i) => hmdTicks[i]).tickSize(13).tickPadding(10));
      ar.select(".domain").remove();
      ar.attr("font-family", FONT).attr("font-size", 14.5);
      ar.selectAll(".tick line").attr("stroke-width", 2);
      // the labels 2 and 1 sit very close together; nudge them apart slightly
      ar.selectAll(".tick text").attr("dy", (d, i) => hmdTicks[i] === 2 ? "0.05em" : hmdTicks[i] === 1 ? "0.5em" : "0.32em");
      ar.append("line").attr("x1", 0).attr("x2", 0).attr("y1", y(Math.log(0.5))).attr("y2", y(Math.log(25.5)))
        .attr("stroke", "#000").attr("stroke-width", 2.2);
    }
    if (r === 6) {
      const ab = g.append("g").attr("transform", `translate(0,${panelH})`)
        .call(d3.axisBottom(x).tickValues(xTicks).tickFormat(d3.format("d")).tickSize(14).tickPadding(20));
      ab.select(".domain").remove();
      ab.attr("font-family", FONT).attr("font-size", 21);
      ab.selectAll(".tick line").attr("stroke-width", 2);
      ab.append("line").attr("x1", x(0)).attr("x2", x(16)).attr("y1", 0).attr("y2", 0).attr("stroke", "#000").attr("stroke-width", 2.2);
      svg.append("text").attr("x", colX[c] + panelW / 2).attr("y", 1347).attr("text-anchor", "middle")
        .attr("dominant-baseline", "central").attr("font-size", 27).text("weeks");
    }
  }
});
</script>
</body></html>
